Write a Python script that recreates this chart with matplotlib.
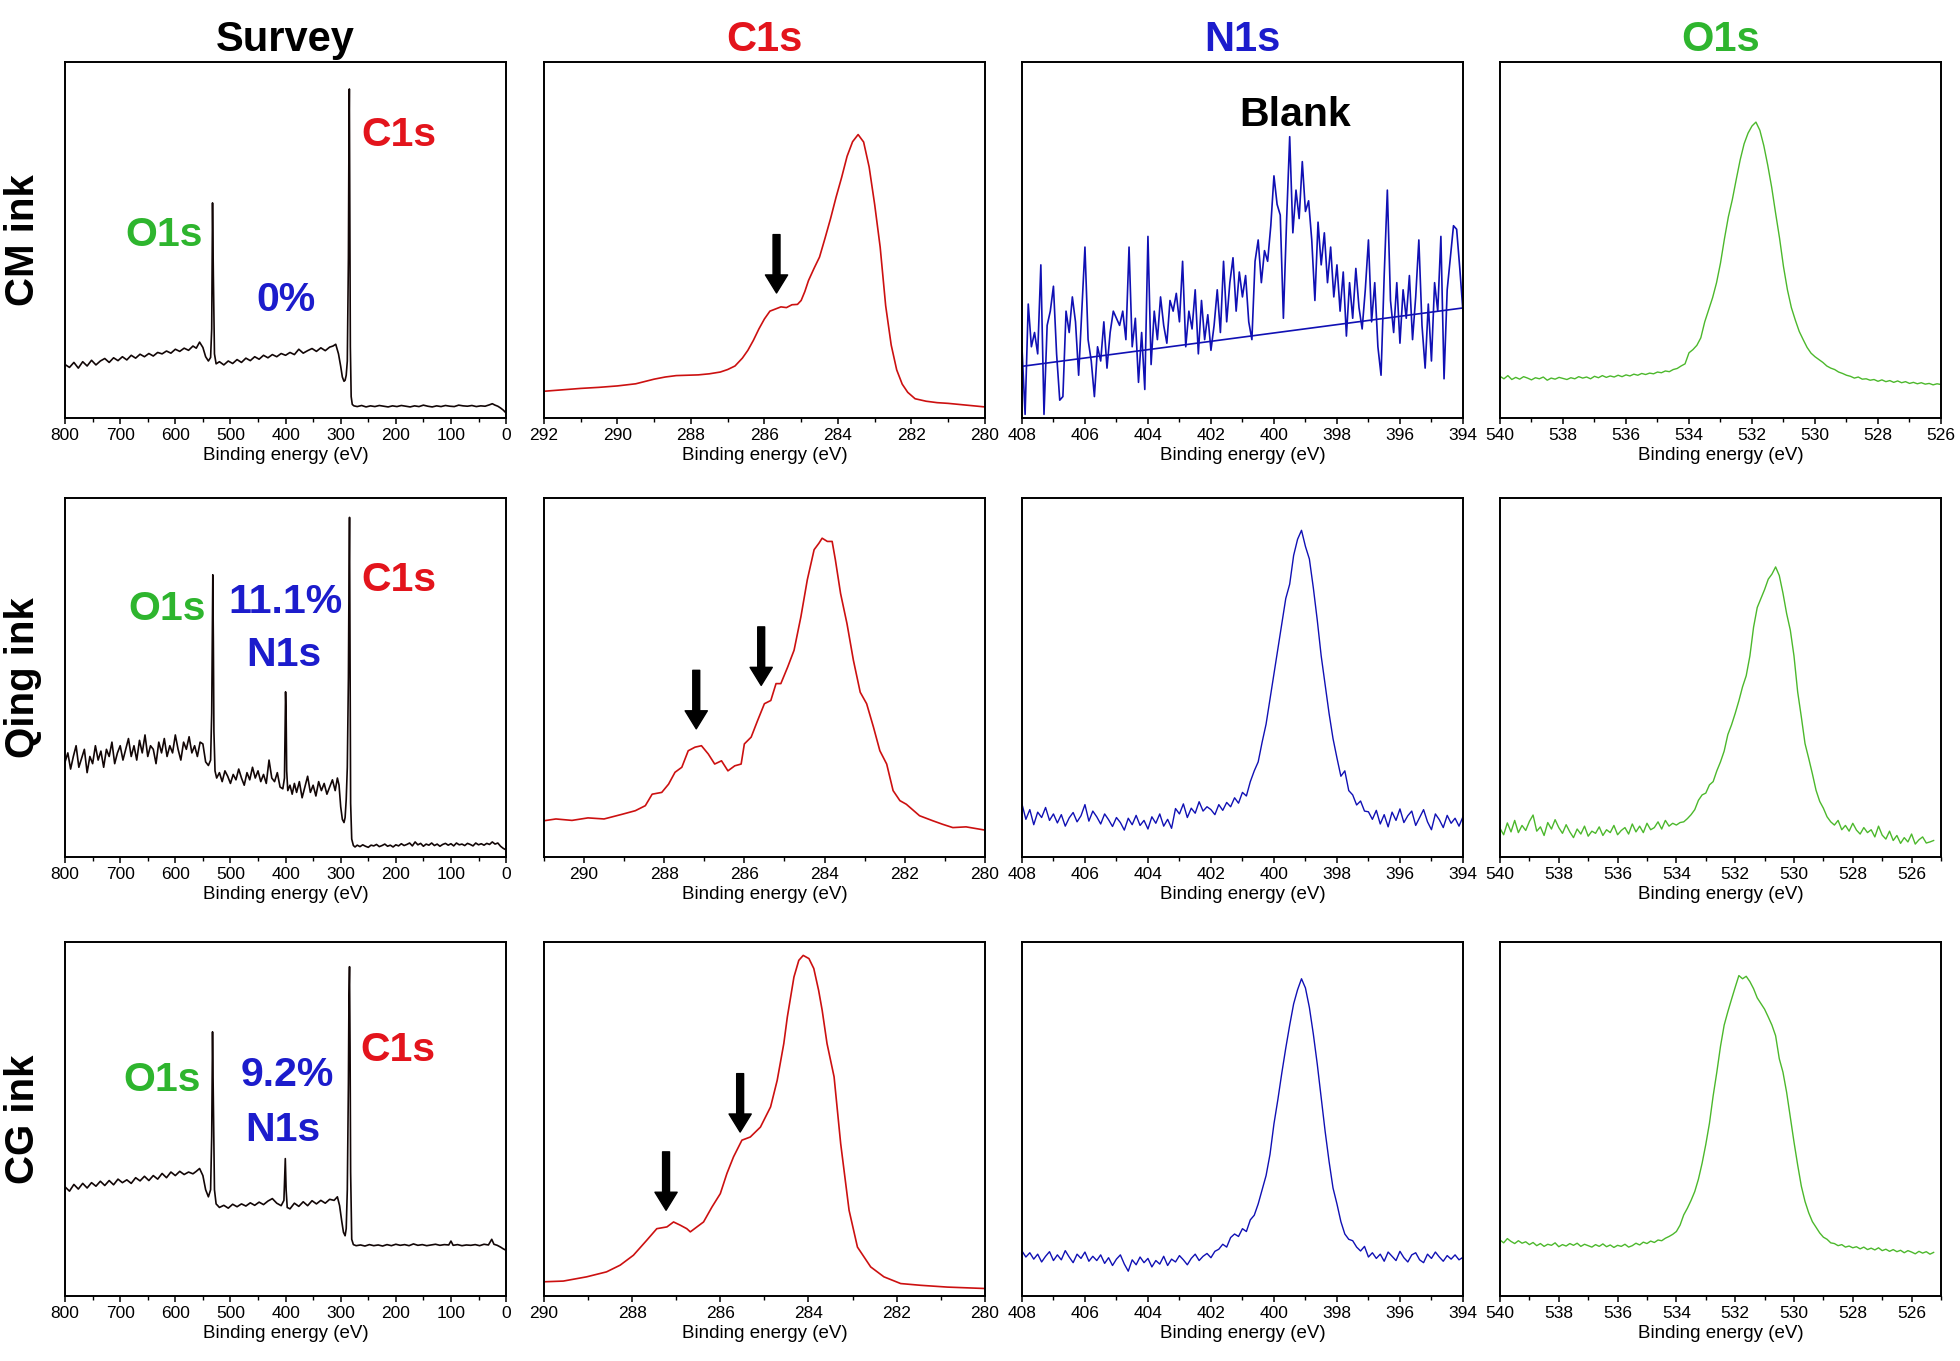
import numpy as np
import matplotlib
matplotlib.use("Agg")
import matplotlib.pyplot as plt
from matplotlib.ticker import MultipleLocator

plt.rcParams['font.family'] = ['Liberation Sans', 'DejaVu Sans']

# ---------- survey spectra ----------
cm_survey_x = [800, 792, 784, 776, 768, 760, 752, 744, 736, 728,
               720, 712, 704, 696, 688, 680, 672, 664, 656, 648,
               640, 632, 624, 616, 608, 600, 592, 584, 576, 568,
               562, 556, 550, 545, 540, 536, 534, 532.5, 531, 529,
               526, 520, 512, 504, 496, 488, 480, 472, 464, 456,
               448, 440, 432, 424, 416, 408, 400, 392, 384, 376,
               368, 360, 352, 344, 336, 328, 320, 314, 309, 304,
               300, 297, 294, 292, 290, 288, 286, 285, 284.3, 283.5,
               282.5, 281, 279, 276, 270, 262, 254, 246, 238, 230,
               222, 214, 206, 198, 190, 182, 174, 166, 158, 150,
               142, 134, 126, 118, 110, 102, 94, 86, 78, 70,
               62, 54, 46, 38, 30, 25, 20, 15, 10, 5,
               0]
cm_survey_y = [15.0, 14.2, 15.6, 14.0, 15.8, 14.6, 16.2, 14.9, 16.0, 16.7,
               15.6, 16.9, 16.1, 17.2, 16.3, 17.6, 16.8, 17.9, 17.2, 18.1,
               17.4, 18.4, 18.0, 18.8, 18.2, 19.3, 18.7, 19.6, 19.0, 20.2,
               19.6, 21.3, 19.8, 17.2, 16.0, 17.0, 25.0, 60.4, 40.0, 18.0,
               15.2, 15.8, 14.9, 16.0, 15.3, 16.4, 15.6, 16.8, 16.1, 17.2,
               16.5, 17.6, 16.9, 17.8, 17.2, 18.1, 17.6, 18.4, 17.8, 19.3,
               18.2, 18.9, 19.5, 18.7, 19.7, 18.9, 19.9, 20.2, 20.7, 18.0,
               14.5, 11.5, 10.3, 10.6, 12.0, 16.0, 45.0, 80.0, 92.4, 60.0,
               20.0, 6.0, 3.8, 3.4, 3.2, 3.5, 3.1, 3.4, 3.2, 3.5,
               3.3, 3.1, 3.4, 3.2, 3.5, 3.3, 3.1, 3.4, 3.2, 3.6,
               3.3, 3.1, 3.4, 3.2, 3.5, 3.3, 3.2, 3.6, 3.4, 3.3,
               3.5, 3.2, 3.4, 3.3, 3.7, 4.0, 3.6, 3.3, 2.8, 2.2,
               1.4]

qing_survey_x = [800, 795, 790, 785, 780, 775, 770, 765, 760, 755,
                 750, 745, 740, 735, 730, 725, 720, 715, 710, 705,
                 700, 695, 690, 685, 680, 675, 670, 665, 660, 655,
                 650, 645, 640, 635, 630, 625, 620, 615, 610, 605,
                 600, 595, 590, 585, 580, 575, 570, 565, 560, 555,
                 550, 545, 540, 536, 534, 532, 531, 530, 528, 525,
                 520, 515, 510, 505, 500, 495, 490, 485, 480, 475,
                 470, 465, 460, 455, 450, 445, 440, 435, 430, 425,
                 420, 415, 410, 405, 402, 400, 399, 398, 396, 392,
                 388, 384, 380, 375, 370, 365, 360, 355, 350, 345,
                 340, 335, 330, 325, 320, 315, 310, 306, 303, 300,
                 297, 294, 292, 290, 288, 286, 285, 284, 283, 282,
                 280, 277, 274, 270, 265, 260, 255, 250, 245, 240,
                 235, 230, 225, 220, 215, 210, 205, 200, 195, 190,
                 185, 180, 175, 170, 165, 160, 155, 150, 145, 140,
                 135, 130, 125, 120, 115, 110, 105, 100, 95, 90,
                 85, 80, 75, 70, 65, 60, 55, 50, 45, 40,
                 35, 30, 25, 20, 15, 10, 5, 0]
qing_survey_y = [26.5, 29.0, 24.5, 28.0, 31.0, 25.0, 27.5, 30.0, 23.5, 28.0,
                 26.0, 31.0, 27.0, 29.5, 25.0, 30.0, 28.0, 32.0, 26.0, 29.0,
                 31.0, 27.0, 30.0, 33.0, 28.0, 31.0, 27.0, 32.5, 29.0, 34.0,
                 28.0, 31.0, 30.0, 26.0, 32.0, 29.0, 33.0, 28.0, 31.0, 29.0,
                 34.0, 30.0, 27.0, 32.0, 30.0, 33.5, 29.0, 31.0, 28.0, 32.0,
                 31.5, 26.5, 25.5, 27.0, 40.0, 78.6, 60.0, 35.0, 24.0, 22.0,
                 23.5, 21.0, 24.0, 22.5, 20.5, 23.0, 21.5, 24.5, 22.0, 20.0,
                 23.5, 21.5, 25.0, 22.0, 24.0, 21.0, 23.0, 20.5, 27.0, 22.0,
                 21.0, 23.5, 19.5, 19.0, 22.0, 46.0, 40.0, 24.0, 18.5, 20.0,
                 17.5, 20.5, 18.0, 21.0, 16.5, 19.5, 22.5, 18.0, 20.0, 17.0,
                 21.0, 18.5, 20.5, 17.5, 19.5, 21.5, 18.5, 22.0, 20.0, 14.0,
                 10.5, 9.6, 11.0, 16.0, 25.0, 50.0, 75.0, 94.6, 55.0, 15.0,
                 5.0, 3.2, 2.8, 3.3, 2.9, 3.4, 3.0, 2.7, 3.3, 3.1,
                 3.5, 2.9, 3.2, 3.6, 3.0, 3.3, 2.8, 3.4, 3.1, 3.7,
                 3.2, 3.5, 3.9, 3.1, 4.2, 3.4, 3.8, 3.0, 3.6, 3.3,
                 3.9, 3.2, 3.6, 3.0, 3.5, 3.8, 3.3, 3.7, 3.1, 3.9,
                 3.4, 3.6, 3.2, 3.8, 3.5, 3.1, 3.9, 3.4, 3.7, 3.3,
                 3.8, 3.5, 4.2, 3.6, 3.9, 3.0, 2.4, 2.0]

cg_survey_x = [800, 792, 784, 776, 768, 760, 752, 744, 736, 728,
               720, 712, 704, 696, 688, 680, 672, 664, 656, 648,
               640, 632, 624, 616, 608, 600, 592, 584, 576, 568,
               562, 556, 550, 545, 540, 536, 534, 532.5, 531, 529,
               526, 520, 512, 504, 496, 488, 480, 472, 464, 456,
               448, 440, 432, 424, 416, 408, 403, 400.5, 399, 397,
               392, 384, 376, 368, 360, 352, 344, 336, 328, 320,
               312, 306, 302, 298, 295, 292, 290, 288, 286, 285,
               284, 283, 282, 280, 277, 272, 264, 256, 248, 240,
               232, 224, 216, 208, 200, 192, 184, 176, 168, 160,
               152, 144, 136, 128, 120, 112, 104, 100, 96, 88,
               80, 72, 64, 56, 48, 40, 32, 26, 22, 16,
               10, 5, 0]
cg_survey_y = [30.8, 29.6, 31.5, 30.2, 31.8, 30.5, 32.0, 31.0, 32.4, 31.2,
               32.6, 31.4, 33.0, 32.0, 32.8, 31.8, 33.4, 32.5, 33.8, 32.6,
               34.0, 33.0, 34.6, 33.4, 35.0, 34.0, 35.2, 34.3, 35.0, 34.5,
               35.2, 36.0, 34.0, 30.0, 28.0, 30.0, 45.0, 74.6, 55.0, 30.0,
               26.0, 25.0, 25.6, 24.8, 25.9, 25.2, 26.0, 25.4, 26.3, 25.6,
               26.5, 25.8, 26.8, 27.5, 26.2, 25.5, 27.0, 38.8, 30.0, 25.0,
               24.6, 26.2, 25.3, 26.6, 25.5, 26.9, 26.0, 27.0, 26.2, 27.3,
               27.0, 28.0, 25.5, 21.0, 18.0, 17.0, 19.0, 30.0, 60.0, 85.0,
               93.0, 70.0, 35.0, 16.0, 14.5, 14.2, 14.4, 14.1, 14.5, 14.2,
               14.4, 14.1, 14.5, 14.2, 14.6, 14.3, 14.5, 14.2, 14.7, 14.3,
               14.5, 14.2, 14.4, 14.6, 14.3, 14.5, 14.4, 15.5, 14.3, 14.5,
               14.2, 14.4, 14.3, 14.5, 14.2, 14.6, 14.4, 16.0, 14.6, 14.3,
               13.8, 13.3, 12.9]

# ---------- C1s ----------
cm_c1s_x = [292.0, 291.5, 291.0, 290.5, 290.0, 289.5, 289.0, 288.7, 288.4, 288.1,
            287.8, 287.5, 287.2, 287.0, 286.8, 286.6, 286.45, 286.3, 286.15, 286.0,
            285.85, 285.7, 285.55, 285.4, 285.25, 285.1, 285.0, 284.9, 284.8, 284.65,
            284.5, 284.35, 284.2, 284.05, 283.9, 283.75, 283.6, 283.45, 283.3, 283.15,
            283.0, 282.85, 282.7, 282.55, 282.4, 282.25, 282.1, 281.9, 281.6, 281.3,
            281.0, 280.6, 280.3, 280.0]
cm_c1s_y = [7.5, 7.9, 8.3, 8.6, 9.0, 9.6, 10.9, 11.5, 11.9, 12.0,
            12.1, 12.4, 12.9, 13.6, 14.6, 16.8, 19.0, 21.8, 25.0, 27.8,
            30.0, 30.6, 31.2, 31.0, 31.8, 31.9, 33.0, 35.5, 38.6, 42.0,
            45.2, 50.5, 56.0, 62.0, 67.5, 73.5, 77.6, 79.6, 77.5, 70.5,
            60.0, 48.0, 31.5, 20.5, 13.5, 9.5, 7.2, 5.4, 4.7, 4.3,
            4.1, 3.7, 3.4, 3.1]

qing_c1s_x = [291.0, 290.7, 290.3, 289.9, 289.5, 289.05, 288.72, 288.47, 288.3, 288.06,
              287.89, 287.73, 287.56, 287.4, 287.23, 287.07, 286.9, 286.74, 286.57, 286.41,
              286.24, 286.08, 286.0, 285.83, 285.67, 285.5, 285.34, 285.21, 285.09, 284.92,
              284.76, 284.59, 284.43, 284.26, 284.14, 284.06, 283.93, 283.81, 283.73, 283.6,
              283.44, 283.28, 283.11, 282.95, 282.78, 282.62, 282.45, 282.29, 282.12, 281.96,
              281.63, 281.3, 281.05, 280.8, 280.47, 280.0]
qing_c1s_y = [10.1, 10.6, 10.2, 10.9, 10.6, 11.9, 12.9, 14.3, 17.5, 18.0,
              20.3, 23.6, 25.0, 29.6, 30.6, 31.0, 28.7, 25.9, 26.8, 24.0,
              25.4, 25.9, 31.5, 33.4, 38.0, 42.7, 43.6, 48.3, 48.3, 52.9,
              57.6, 66.9, 77.2, 85.6, 87.4, 88.8, 87.9, 87.9, 82.8, 73.4,
              65.0, 54.8, 45.9, 42.7, 36.2, 29.6, 25.9, 18.5, 15.7, 14.7,
              11.5, 10.1, 9.1, 8.2, 8.4, 7.5]

cg_c1s_x = [290.0, 289.56, 289.03, 288.58, 288.27, 287.97, 287.67, 287.44, 287.21, 287.06,
            286.91, 286.76, 286.68, 286.53, 286.38, 286.19, 286.0, 285.85, 285.7, 285.51,
            285.32, 285.09, 284.86, 284.71, 284.56, 284.48, 284.33, 284.22, 284.12, 283.99,
            283.88, 283.77, 283.69, 283.58, 283.42, 283.27, 283.08, 282.89, 282.59, 282.29,
            281.91, 281.45, 280.85, 280.0]
cg_c1s_y = [4.0, 4.2, 5.4, 6.8, 8.7, 11.5, 15.7, 19.0, 19.5, 20.9,
            20.0, 19.0, 18.1, 19.5, 20.9, 25.1, 28.9, 34.6, 39.3, 44.0,
            44.9, 47.7, 53.4, 60.9, 71.3, 78.8, 90.1, 94.8, 96.2, 95.3,
            92.5, 86.3, 80.7, 71.3, 61.9, 43.0, 24.2, 13.8, 8.2, 5.4,
            3.5, 3.0, 2.5, 2.1]

# arrows on the C1s panels: (energy, tail, tip)
cm_c1s_arrows = [(285.67, 51.5, 35.1)]
qing_c1s_arrows = [(287.2, 52.0, 35.7), (285.58, 64.1, 47.8)]
cg_c1s_arrows = [(287.23, 40.7, 24.2), (285.55, 62.8, 46.3)]

# ---------- N1s (evenly stepped scans, 408 -> 394 eV) ----------
cm_n1s_y = [20, 1, 32, 20, 24, 18, 43, 1, 26, 30,
            37, 18, 5, 6, 30, 24, 34, 27, 12, 30,
            48, 22, 16, 6, 20, 16, 27, 14, 24, 30,
            28, 26, 30, 22, 48, 20, 28, 10, 24, 8,
            51, 15, 30, 22, 34, 26, 21, 33, 30, 35,
            27, 44, 20, 30, 25, 36, 18, 33, 22, 29,
            19, 26, 36, 24, 44, 27, 38, 45, 30, 41,
            34, 40, 27, 22, 44, 50, 38, 47, 44, 54,
            68, 60, 57, 28, 55, 79, 52, 64, 56, 72,
            58, 61, 50, 33, 55, 43, 52, 38, 48, 34,
            43, 30, 41, 23, 38, 28, 42, 31, 25, 36,
            50, 27, 38, 20, 12, 40, 64, 33, 24, 38,
            21, 36, 28, 40, 22, 34, 50, 26, 14, 32,
            16, 38, 30, 51, 11, 36, 45, 54, 53, 42,
            30]
cm_n1s_bg_x = [408, 394]
cm_n1s_bg_y = [14.5, 30.9]

qing_n1s_y = [14.8, 10.5, 13.2, 9.0, 12.5, 11.0, 13.8, 10.2, 12.0, 9.5,
              11.8, 8.6, 10.9, 12.4, 9.8, 11.5, 14.6, 10.0, 12.8, 11.2,
              9.2, 12.0, 10.4, 8.5, 11.0, 9.6, 7.5, 10.8, 9.0, 11.6,
              8.8, 10.2, 7.8, 11.2, 9.4, 12.0, 8.6, 10.5, 8.0, 13.5,
              12.0, 14.8, 11.0, 13.6, 12.2, 15.4, 12.8, 14.0, 13.2, 11.8,
              14.6, 13.0, 15.2, 14.0,
              16.5, 15.0, 18.0, 17.0, 21.0, 24.0, 26.5, 32.0, 37.0, 44.0,
              51.0, 58.0, 65.0, 72.0, 76.0, 84.0, 88.5, 91.0, 86.5, 83.0,
              75.0, 66.0, 56.0, 48.0, 40.0, 33.0, 27.6, 22.5, 24.0, 18.5,
              17.3, 14.5, 15.6, 12.8, 12.6,
              10.5, 13.0, 9.2, 11.8, 8.4, 12.5, 10.2, 13.4, 9.6, 11.5,
              12.8, 8.8, 11.0, 13.2, 9.8, 7.6, 12.0, 10.4, 8.2, 11.6,
              9.4, 10.8, 8.6, 11.2]

cg_n1s_y = [12.7, 11.0, 12.2, 10.4, 11.8, 9.6, 11.2, 12.5, 10.0, 11.6,
            10.2, 12.8, 11.0, 9.4, 11.8, 10.6, 12.4, 9.8, 11.2, 10.0,
            11.6, 9.2, 10.8, 8.6, 10.4, 11.6, 9.0, 7.0, 10.2, 8.8,
            11.0, 9.4, 10.6, 8.2, 10.0, 9.0, 11.2, 8.6, 10.4, 9.6,
            11.4, 10.2, 8.8, 10.6, 11.8, 10.0, 11.2, 12.0, 10.8, 12.6,
            13.2,
            14.6, 13.8, 16.5, 17.5, 16.8, 19.0, 18.2, 21.5, 22.8, 26.0,
            30.0, 34.0, 40.0, 48.6, 55.5, 63.0, 70.0, 76.5, 82.5, 86.5,
            89.6, 87.0, 81.5, 74.0, 65.5, 56.0, 46.5, 38.0, 30.5, 26.0,
            21.0, 17.5, 16.0, 15.6, 13.8, 12.7, 14.0,
            11.0, 12.2, 10.6, 11.8, 9.8, 12.4, 11.2, 10.0, 12.6, 10.8,
            9.6, 11.6, 12.2, 10.2, 9.4, 11.8, 10.6, 12.4, 11.0, 9.8,
            11.4, 10.4, 11.6, 10.2, 10.9]

# ---------- O1s (evenly stepped scans from 540 eV) ----------
cm_o1s_y = [11.7, 11.0, 11.9, 10.8, 11.4, 10.9, 11.6, 11.2, 10.7, 11.3,
            11.0, 11.5, 10.6, 11.2, 10.9, 11.4, 11.1, 10.8, 11.3, 11.0,
            11.6, 11.2, 11.5, 11.0, 11.7, 11.3, 11.9, 11.4, 11.8, 11.5,
            12.0, 11.6, 12.1, 11.8, 12.3, 12.0, 12.5, 12.2, 12.6, 12.4,
            12.9, 12.7, 13.2, 13.0, 13.6, 13.9, 14.6, 15.2,
            18.3, 19.2, 20.4, 22.5, 27.0, 30.4, 33.8, 38.0, 43.5, 50.3,
            56.5, 61.3, 67.0, 72.5, 77.0, 80.0, 82.0, 83.1, 80.8, 76.5,
            71.0, 64.8, 57.5, 50.5, 42.5, 36.0, 31.0, 27.5, 24.3, 22.0,
            19.8, 18.2, 17.2,
            16.4, 15.6, 14.6, 14.0, 13.6, 12.9, 12.5, 12.0, 11.7, 11.2,
            11.5, 10.9, 11.0, 10.6, 10.8, 10.3, 10.7, 10.2, 10.5, 10.0,
            10.4, 9.9, 10.2, 9.7, 10.0, 9.6, 9.9, 9.5, 9.7, 9.3,
            9.6, 9.4]
cm_o1s_end = 526.0

qing_o1s_y = [8.0, 6.2, 9.5, 7.0, 10.2, 6.8, 8.8, 7.4, 9.9, 11.7,
              7.2, 8.4, 6.0, 9.6, 7.8, 10.4, 8.2, 6.6, 9.0, 7.0,
              5.4, 7.8, 6.4, 8.6, 5.8, 7.2, 6.6, 8.4, 6.0, 7.6,
              6.8, 8.8, 6.2, 7.4, 8.2, 6.4, 9.2, 7.0, 8.6, 6.8,
              9.4, 7.6, 8.2, 9.8, 7.8, 10.2, 8.6, 9.4,
              8.9, 9.6, 9.8, 10.7, 11.8, 13.2, 15.8, 17.3, 17.8, 20.1,
              21.0, 24.0, 26.5, 29.5, 34.1, 36.8, 40.0, 43.5, 47.4, 50.5,
              56.0, 64.0, 69.5, 72.0, 74.5, 77.4, 78.8, 80.8, 78.4, 73.5,
              67.8, 63.2, 56.0, 46.0, 39.0, 31.6, 27.5, 23.2, 18.6,
              15.5, 13.6, 11.2, 9.8, 8.9, 10.2, 7.6, 8.8, 7.2, 9.4,
              7.5, 6.4, 8.2, 6.8, 7.6, 5.6, 8.6, 6.1, 5.0, 7.2,
              4.6, 6.0, 3.8, 5.4, 4.2, 6.4, 3.6, 4.8, 5.6, 3.9,
              4.2, 4.6]
qing_o1s_end = 525.25

cg_o1s_y = [15.8, 15.0, 16.2, 15.4, 14.8, 15.6, 14.9, 15.3, 14.5, 15.1,
            14.2, 14.8, 14.0, 14.6, 14.3, 15.0, 13.9, 14.5, 14.1, 14.8,
            14.3, 14.9, 14.0, 14.6, 14.2, 13.8, 14.5, 14.0, 14.7, 13.9,
            14.4, 13.7, 14.3, 14.0, 14.6, 13.8, 14.2, 14.9, 14.4, 15.2,
            14.8, 15.5, 15.1, 15.8, 15.6, 16.3, 16.8, 17.4,
            18.2, 20.0, 22.9, 24.8, 27.0, 29.5, 33.0, 37.5, 42.8, 48.8,
            56.5, 63.2, 70.5, 76.5, 80.3, 83.8, 87.2, 90.5, 89.6, 90.3,
            88.8, 86.8, 84.2, 82.6, 81.0, 78.8, 76.5, 73.5, 67.0, 63.2,
            57.5, 50.5, 43.5, 37.0, 31.0, 26.7, 23.5, 21.0, 19.4, 17.8,
            16.6, 16.0, 15.0, 14.8, 14.2, 14.5, 13.8, 14.1,
            13.6, 13.9, 13.3, 13.8, 13.1, 13.5, 13.0, 13.6, 12.8, 13.2,
            12.6, 13.1, 12.5, 12.9, 12.2, 12.8, 12.4, 11.9, 12.6, 12.1,
            12.5, 11.8, 12.3]
cg_o1s_end = 525.25

row_names = ['CM ink', 'Qing ink', 'CG ink']
col_names = ['Survey', 'C1s', 'N1s', 'O1s']

RED = '#e3141c'
BLUE = '#1c1ccc'
GREEN = '#2eb52e'
line_colors = ['#120606', '#cc1010', '#1010b4', '#4cb82c']
title_colors = ['black', RED, BLUE, GREEN]

fig = plt.figure(figsize=(19.6, 13.61), dpi=100)

col_left = [0.0332, 0.2775, 0.5214, 0.7653]
col_width = [0.2250, 0.2250, 0.2250, 0.2250]
row_bottom = [0.6929, 0.3703, 0.0478]
row_height = [0.2616, 0.2638, 0.2601]


def style_axis(ax, xlim, major, minor):
    ax.set_xlim(*xlim)
    ax.set_ylim(0, 100)
    ax.xaxis.set_major_locator(MultipleLocator(major))
    ax.xaxis.set_minor_locator(MultipleLocator(minor))
    ax.set_yticks([])
    ax.tick_params(axis='x', which='major', direction='out', length=4,
                   width=1.1, labelsize=12.5, pad=3)
    ax.tick_params(axis='x', which='minor', direction='out', length=3, width=1.0)
    for sp in ax.spines.values():
        sp.set_linewidth(1.4)
    ax.set_xlabel('Binding energy (eV)', fontsize=13.5, labelpad=3)


def draw_arrow(ax, x, y_tail, y_tip):
    ax.annotate('', xy=(x, y_tip), xytext=(x, y_tail),
                arrowprops=dict(arrowstyle='simple,head_width=1.6,head_length=1.3,tail_width=0.5',
                                color='black', shrinkA=0, shrinkB=0))


axes = [[fig.add_axes([col_left[c], row_bottom[r], col_width[c], row_height[r]])
         for c in range(4)] for r in range(3)]

# survey column
surveys = [(cm_survey_x, cm_survey_y), (qing_survey_x, qing_survey_y),
           (cg_survey_x, cg_survey_y)]
for r, (x, y) in enumerate(surveys):
    ax = axes[r][0]
    ax.plot(x, y, color=line_colors[0], lw=1.2)
    style_axis(ax, (800, 0), 100, 50)

# C1s column
c1s = [(cm_c1s_x, cm_c1s_y, (292, 280), cm_c1s_arrows),
       (qing_c1s_x, qing_c1s_y, (291, 280), qing_c1s_arrows),
       (cg_c1s_x, cg_c1s_y, (290, 280), cg_c1s_arrows)]
for r, (x, y, lim, arrows) in enumerate(c1s):
    ax = axes[r][1]
    ax.plot(x, y, color=line_colors[1], lw=1.2)
    style_axis(ax, lim, 2, 1)
    for ex, yt, yh in arrows:
        draw_arrow(ax, ex, yt, yh)

# N1s column
for r, y in enumerate([cm_n1s_y, qing_n1s_y, cg_n1s_y]):
    ax = axes[r][2]
    x = np.linspace(408, 394, len(y))
    ax.plot(x, y, color=line_colors[2], lw=1.2 if r == 0 else 1.0)
    style_axis(ax, (408, 394), 2, 1)
axes[0][2].plot(cm_n1s_bg_x, cm_n1s_bg_y, color=line_colors[2], lw=1.2)

# O1s column
o1s = [(cm_o1s_y, cm_o1s_end, (540, 526)),
       (qing_o1s_y, qing_o1s_end, (540, 525)),
       (cg_o1s_y, cg_o1s_end, (540, 525))]
for r, (y, end, lim) in enumerate(o1s):
    ax = axes[r][3]
    x = np.linspace(540, end, len(y))
    ax.plot(x, y, color=line_colors[3], lw=1.0)
    style_axis(ax, lim, 2, 1)

# column titles and row labels
for c in range(4):
    axes[0][c].set_title(col_names[c], fontsize=30, fontweight='bold',
                         color=title_colors[c], pad=8)
for r in range(3):
    yc = row_bottom[r] + row_height[r] / 2
    fig.text(0.0115, yc, row_names[r], rotation=90, fontsize=29,
             fontweight='bold', ha='center', va='center')

# survey peak labels
lab = dict(fontsize=29.5, fontweight='bold', ha='center', va='center')
ax = axes[0][0]
ax.text(0.225, 0.514, 'O1s', color=GREEN, transform=ax.transAxes, **lab)
ax.text(0.502, 0.331, '0%', color=BLUE, transform=ax.transAxes, **lab)
ax.text(0.756, 0.795, 'C1s', color=RED, transform=ax.transAxes, **lab)
ax = axes[1][0]
ax.text(0.231, 0.692, 'O1s', color=GREEN, transform=ax.transAxes, **lab)
ax.text(0.500, 0.711, '11.1%', color=BLUE, transform=ax.transAxes, **lab)
ax.text(0.496, 0.562, 'N1s', color=BLUE, transform=ax.transAxes, **lab)
ax.text(0.757, 0.772, 'C1s', color=RED, transform=ax.transAxes, **lab)
ax = axes[2][0]
ax.text(0.221, 0.609, 'O1s', color=GREEN, transform=ax.transAxes, **lab)
ax.text(0.504, 0.623, '9.2%', color=BLUE, transform=ax.transAxes, **lab)
ax.text(0.494, 0.468, 'N1s', color=BLUE, transform=ax.transAxes, **lab)
ax.text(0.754, 0.694, 'C1s', color=RED, transform=ax.transAxes, **lab)

ax = axes[0][2]
ax.text(0.619, 0.851, 'Blank', color='black', transform=ax.transAxes, **lab)

fig.savefig('out.png', dpi=100)
